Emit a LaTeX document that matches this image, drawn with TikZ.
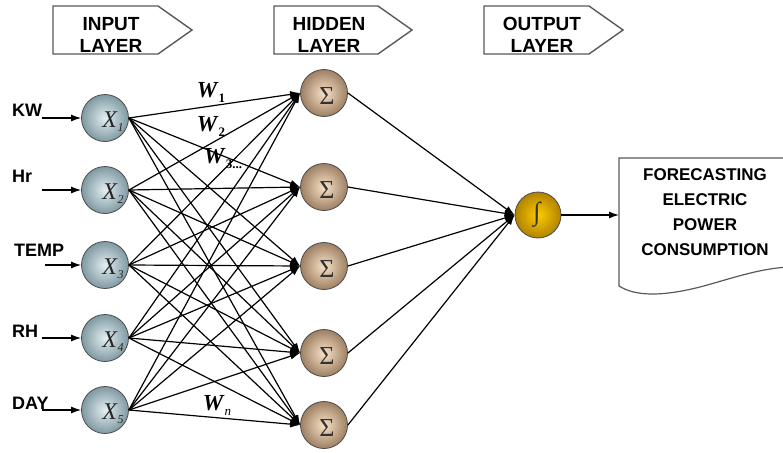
\documentclass[tikz,border=0pt]{standalone}
\usepackage{fontspec}
\setmainfont{Liberation Serif}
\setsansfont{Liberation Sans}
\usetikzlibrary{arrows.meta,calc}

\begin{document}
\begin{tikzpicture}[x=1pt,y=-1pt,
  wire/.style={line width=1.2pt,-{Latex[length=10pt,width=7pt]}},
  hdrbox/.style={draw=black!65,line width=1.4pt,fill=white,line join=miter},
  hdrtext/.style={font=\sffamily\bfseries\fontsize{19}{19}\selectfont,inner sep=0pt},
  inlabel/.style={font=\sffamily\bfseries\fontsize{18}{18}\selectfont,inner sep=0pt,anchor=south west},
  inpnode/.style={circle,minimum size=47pt,inner sep=0pt,draw=black!70,line width=0.8pt,
    shading=radial,inner color={rgb,255:red,226;green,238;blue,242},outer color={rgb,255:red,128;green,153;blue,162}},
  hidnode/.style={circle,minimum size=47pt,inner sep=0pt,draw=black!70,line width=0.8pt,
    shading=radial,inner color={rgb,255:red,248;green,226;blue,198},outer color={rgb,255:red,158;green,128;blue,100}},
  outnode/.style={circle,minimum size=46pt,inner sep=0pt,draw=black!70,line width=0.8pt,
    shading=radial,inner color={rgb,255:red,255;green,204;blue,0},outer color={rgb,255:red,176;green,130;blue,0}},
  xlab/.style={font=\fontsize{24}{24}\selectfont,text=black!85,inner sep=0pt},
  wlab/.style={font=\bfseries\fontsize{23}{23}\selectfont,inner sep=0pt},
  symlab/.style={font=\fontsize{26}{26}\selectfont,text=black!80,inner sep=0pt}
]
\useasboundingbox (0,0) rectangle (783,452);

% layer headers
\draw[hdrbox] (53,6) -- (158,6) -- (192,30) -- (158,54) -- (53,54) -- cycle;
\node[hdrtext] (hin1) at (111,24) {INPUT};
\node[hdrtext] (hin2) at (111,46) {LAYER};
\draw[hdrbox] (274,6) -- (378,6) -- (412,30) -- (378,54) -- (274,54) -- cycle;
\node[hdrtext] (hhid1) at (329,24) {HIDDEN};
\node[hdrtext] (hhid2) at (329,46) {LAYER};
\draw[hdrbox] (484,6) -- (589,6) -- (623,30) -- (589,54) -- (484,54) -- cycle;
\node[hdrtext] (hout1) at (542,24) {OUTPUT};
\node[hdrtext] (hout2) at (542,46) {LAYER};

% input neurons
\foreach \i/\y in {1/118,2/190,3/265,4/338,5/410}{
  \node[inpnode] (x\i) at (105,\y) {};
  \node[xlab] (xl\i) at ([shift={(8,4)}]x\i.center)
    {\textit{X}\raisebox{-4pt}{\fontsize{12}{12}\selectfont\itshape\i}};
}

% hidden neurons
\foreach \j/\y in {1/93,2/187,3/266,4/353,5/425}{
  \node[hidnode] (h\j) at (324,\y) {};
  \node[symlab] (hs\j) at ([shift={(3,3)}]h\j.center) {Σ};
}

% output neuron
\node[outnode] (out) at (538,215) {};
\node[symlab] (outs) at (537,215) {∫};

% input variables
\node[inlabel] (lkw) at (12,117) {KW};
\node[inlabel] (lhr) at (12,183) {Hr};
\node[inlabel] (ltemp) at (14,257) {TEMP};
\node[inlabel] (lrh) at (12,338) {RH};
\node[inlabel] (lday) at (12,410) {DAY};
\coordinate (a1) at (42,118);
\coordinate (a2) at (42,190);
\coordinate (a3) at (45,265);
\coordinate (a4) at (42,338);
\coordinate (a5) at (42,410);
\foreach \i in {1,...,5}{\draw[wire] (a\i) -- (x\i.west);}

% fully connected input -> hidden
\foreach \i in {1,...,5}{
  \foreach \j in {1,...,5}{
    \draw[wire] (x\i.east) -- (h\j.west);
  }
}

% hidden -> output
\foreach \j in {1,...,5}{\draw[wire] (h\j.east) -- (out.west);}

% weight labels
\node[wlab] (w1) at (211,92) {\textit{W}\raisebox{-5pt}{\fontsize{13}{13}\selectfont 1}};
\node[wlab] (w2) at (211,126) {\textit{W}\raisebox{-5pt}{\fontsize{13}{13}\selectfont 2}};
\node[wlab] (w3) at (223,159) {\textit{W}\raisebox{-5pt}{\fontsize{13}{13}\selectfont 3...}};
\node[wlab] (wn) at (217,405) {\textit{W}\raisebox{-5pt}{\fontsize{13}{13}\selectfont\mdseries\itshape n}};

% result document
\draw[draw=black!65,line width=1.2pt,fill=white]
  (790,158) -- (619,158) -- (619,286)
  .. controls (635,296) and (660,297) .. (700,287)
  .. controls (730,279) and (760,268) .. (790,267);
\node[font=\sffamily\bfseries\fontsize{17}{25}\selectfont,align=center,inner sep=0pt] (fc) at (705,212)
  {FORECASTING\\ELECTRIC\\POWER\\CONSUMPTION};
\coordinate (fcin) at (619,215);
\draw[wire] (out.east) -- (fcin);
\end{tikzpicture}
\end{document}
